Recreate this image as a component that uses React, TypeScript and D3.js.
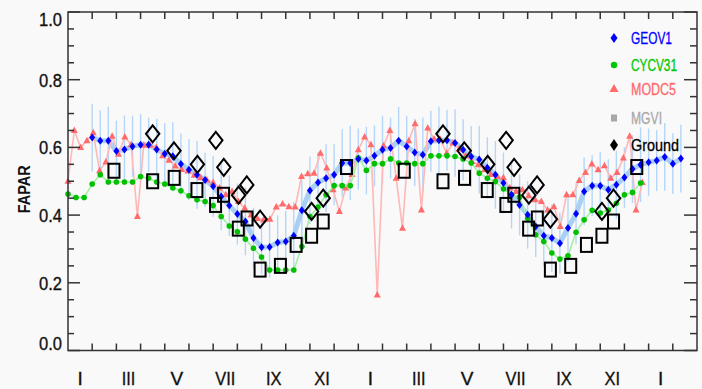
import React from "react";
import * as d3 from "d3";

// ---- data ----
// GEOV1: dekadal, starting at dekad 3 (1 Feb, year 1)
const geoStartDekad = 3;
const geov1 = [
  0.629, 0.62, 0.62, 0.589, 0.594, 0.603, 0.608, 0.608, 0.594, 0.581,
  0.574, 0.551, 0.534, 0.519, 0.504, 0.485, 0.455, 0.428, 0.403, 0.381,
  0.332, 0.305, 0.306, 0.319, 0.322, 0.339, 0.414, 0.473, 0.496, 0.509,
  0.519, 0.554, 0.554, 0.566, 0.561, 0.575, 0.593, 0.598, 0.62, 0.603,
  0.585, 0.578, 0.618, 0.621, 0.621, 0.613, 0.593, 0.573, 0.564, 0.54,
  0.519, 0.495, 0.46, 0.43, 0.401, 0.366, 0.339, 0.332, 0.317, 0.362,
  0.404, 0.47, 0.487, 0.487, 0.475, 0.49, 0.511, 0.536, 0.549, 0.556,
  0.561, 0.572, 0.552, 0.567,
];
const geov1Unc = [
  0.1, 0.09, 0.1, 0.09, 0.1, 0.09, 0.09, 0.08, 0.09, 0.09,
  0.1, 0.09, 0.09, 0.1, 0.08, 0.09, 0.1, 0.09, 0.09, 0.1,
  0.09, 0.08, 0.09, 0.08, 0.09, 0.1, 0.09, 0.1, 0.09, 0.1,
  0.09, 0.1, 0.11, 0.09, 0.1, 0.09, 0.1, 0.09, 0.1, 0.09,
  0.1, 0.11, 0.09, 0.1, 0.09, 0.1, 0.09, 0.09, 0.1, 0.09,
  0.1, 0.09, 0.1, 0.09, 0.1, 0.09, 0.09, 0.1, 0.09, 0.1,
  0.09, 0.1, 0.09, 0.1, 0.09, 0.1, 0.09, 0.1, 0.11, 0.1,
  0.09, 0.1, 0.09, 0.1,
];
// CYCV31: dekadal, starting at dekad 0
const cycStartDekad = 0;
const cycv31 = [
  0.462, 0.452, 0.452, 0.492, 0.519, 0.498, 0.498, 0.498, 0.498, 0.514,
  0.509, 0.498, 0.492, 0.48, 0.472, 0.457, 0.445, 0.44, 0.428, 0.396,
  0.368, 0.351, 0.329, 0.302, 0.276, 0.238, 0.238, 0.238, 0.238, 0.307,
  0.396, 0.424, 0.46, 0.487, 0.487, 0.487, 0.569, 0.532, 0.552, 0.552,
  0.566, 0.554, 0.554, 0.552, 0.552, 0.575, 0.575, 0.575, 0.573, 0.566,
  0.554, 0.524, 0.509, 0.499, 0.477, 0.46, 0.453, 0.391, 0.342, 0.322,
  0.288, 0.27, 0.28, 0.349, 0.386, 0.414, 0.406, 0.415, 0.435, 0.46,
  0.467, 0.495,
];
// MODC5: 8-day composites (46 per year), starting 1 Jan year 1
const modc5 = [
  0.5, 0.65, 0.6, 0.62, 0.643, 0.531, 0.557, 0.633, 0.58, 0.631,
  0.608, 0.396, 0.606, 0.606, 0.6, 0.575, 0.562, 0.545, 0.535, 0.53,
  0.518, 0.51, 0.504, 0.496, 0.48, 0.46, 0.47, 0.44, 0.42, 0.4,
  0.39, 0.386, 0.388, 0.424, 0.433, 0.425, 0.424, 0.514, 0.522, 0.524,
  0.583, 0.539, 0.475, 0.411, 0.48, 0.52, 0.593, 0.631, 0.608, 0.164,
  0.605, 0.65, 0.509, 0.361, 0.62, 0.67, 0.415, 0.657, 0.625, 0.623,
  0.583, 0.613, 0.595, 0.575, 0.558, 0.549, 0.534, 0.52, 0.514, 0.51,
  0.48, 0.47, 0.475, 0.457, 0.445, 0.44, 0.415, 0.425, 0.366, 0.46,
  0.46, 0.502, 0.526, 0.551, 0.534, 0.546, 0.509, 0.526, 0.569, 0.633,
  0.415, 0.496,
];
// Ground measurements (month of year, fractional), repeated for both years
const groundDiamondMonth = [3.5, 4.38, 5.35, 6.11, 6.44, 7.05, 7.39, 7.94, 10.07, 10.55];
const groundDiamondValue = [0.64, 0.59, 0.55, 0.621, 0.541, 0.459, 0.489, 0.388, 0.411, 0.45];
const groundSquareMonth = [1.9, 3.5, 4.39, 5.33, 6.1, 6.43, 7.04, 7.4, 7.94, 8.78, 9.43, 10.07, 10.55, 11.51];
const groundSquareValue = [0.531, 0.5, 0.51, 0.474, 0.43, 0.46, 0.36, 0.39, 0.239, 0.25, 0.312, 0.339, 0.381, 0.542];
const groundYears = [0, 12];

const monthLabels = ["I", "III", "V", "VII", "IX", "XI", "I", "III", "V", "VII", "IX", "XI", "I"];
const yMajor = [0, 0.2, 0.4, 0.6, 0.8, 1.0];
const yMinor = [0.05, 0.1, 0.15, 0.25, 0.3, 0.35, 0.45, 0.5, 0.55, 0.65, 0.7, 0.75, 0.85, 0.9, 0.95];
const legendItems = ["GEOV1", "CYCV31", "MODC5", "MGVI", "Ground"];

const W = 702, H = 389;
const L = 68, R = 697, T = 12, B = 350.5;
const NMONTHS = 26;

const romanWidth = (s: string) => {
  let w = 0;
  for (const ch of s) w += ch === "I" ? 4.5 : 11;
  return w;
};

export default function App() {
  const x = d3.scaleLinear().domain([0, NMONTHS]).range([L, R]);
  const y = d3.scaleLinear().domain([0, 1]).range([B, T]);

  const geoPts = geov1.map((v, i) => ({ m: (geoStartDekad + i) / 3, v, u: geov1Unc[i] }));
  const cycPts = cycv31.map((v, i) => ({ m: (cycStartDekad + i) / 3, v }));
  const modPts = modc5.map((v, i) => ({ m: (i * 12) / 46, v }));

  const line = d3
    .line<{ m: number; v: number }>()
    .x((d) => x(d.m))
    .y((d) => y(d.v));

  const font = "'Liberation Sans', Arial, sans-serif";
  const axisColor = "#333";

  const diamonds: { m: number; v: number }[] = [];
  const squares: { m: number; v: number }[] = [];
  groundYears.forEach((off) => {
    groundDiamondMonth.forEach((m, i) => diamonds.push({ m: m + off, v: groundDiamondValue[i] }));
    groundSquareMonth.forEach((m, i) => squares.push({ m: m + off, v: groundSquareValue[i] }));
  });

  const legendColors = ["#0000ff", "#00c800", "#ff6b6b", "#a8a8a8", "#000000"];
  const legendWidths = [41, 46, 45, 31, 48];

  return (
    <svg
      width={W}
      height={H}
      style={{ position: "absolute", left: 0, top: 0, background: "#f9f9f9" }}
    >
      <rect x={0} y={0} width={W} height={H} fill="#f9f9f9" />
      {/* GEOV1 error bars */}
      <g stroke="#b5d6f7" strokeWidth={1.4}>
        {geoPts.map((d, i) => (
          <line key={i} x1={x(d.m)} x2={x(d.m)} y1={y(d.v - d.u)} y2={y(d.v + d.u)} />
        ))}
      </g>
      {/* GEOV1 thick band line */}
      <path d={line(geoPts) || ""} fill="none" stroke="#a9cff5" strokeWidth={5} strokeLinejoin="round" />
      {/* MODC5 */}
      <path d={line(modPts) || ""} fill="none" stroke="#ffb8b8" strokeWidth={1.6} />
      <g fill="#ff6b6b">
        {modPts.map((d, i) => (
          <path key={i} transform={`translate(${x(d.m)},${y(d.v)})`} d="M0,-4L3.5,2.5L-3.5,2.5Z" />
        ))}
      </g>
      {/* CYCV31 */}
      <path d={line(cycPts) || ""} fill="none" stroke="#a4f0a4" strokeWidth={1.6} />
      <g fill="#00c000">
        {cycPts.map((d, i) => (
          <circle key={i} cx={x(d.m)} cy={y(d.v)} r={2.8} />
        ))}
      </g>
      {/* GEOV1 points */}
      <g fill="#0000ff">
        {geoPts.map((d, i) => (
          <path key={i} transform={`translate(${x(d.m)},${y(d.v)})`} d="M0,-4L3,0L0,4L-3,0Z" />
        ))}
      </g>
      {/* Ground */}
      <g fill="none" stroke="#000" strokeWidth={2}>
        {diamonds.map((d, i) => (
          <path key={i} transform={`translate(${x(d.m)},${y(d.v)})`} d="M0,-8.5L6.7,0L0,8.5L-6.7,0Z" />
        ))}
        {squares.map((d, i) => (
          <rect key={i} x={x(d.m) - 5.5} y={y(d.v) - 7} width={11} height={14} />
        ))}
      </g>

      {/* Axes frame */}
      <rect x={L} y={T} width={R - L} height={B - T} fill="none" stroke={axisColor} strokeWidth={1.5} />
      {/* ticks */}
      <g stroke={axisColor} strokeWidth={1.5}>
        {yMajor.map((v, i) => (
          <g key={"M" + i}>
            <line x1={L} x2={L + 12} y1={y(v)} y2={y(v)} />
            <line x1={R} x2={R - 13} y1={y(v)} y2={y(v)} />
          </g>
        ))}
        {yMinor.map((v, i) => (
          <g key={"m" + i}>
            <line x1={L} x2={L + 6} y1={y(v)} y2={y(v)} />
            <line x1={R} x2={R - 7} y1={y(v)} y2={y(v)} />
          </g>
        ))}
        {d3.range(1, NMONTHS).map((m) => (
          <g key={"x" + m}>
            <line x1={x(m)} x2={x(m)} y1={T} y2={T + 7} />
            <line x1={x(m)} x2={x(m)} y1={B} y2={B - 7} />
          </g>
        ))}
      </g>
      {/* y labels */}
      <g fontFamily={font} fontSize={19} fill="#111" stroke="#111" strokeWidth={0.35} textAnchor="end">
        {yMajor.map((v, i) => {
          let yy = y(v);
          if (v === 0) yy -= 7;
          if (v === 1) yy += 7;
          return (
            <text key={i} x={62} y={yy} dy="0.36em" textLength={23} lengthAdjust="spacingAndGlyphs">
              {v.toFixed(1)}
            </text>
          );
        })}
      </g>
      {/* x labels */}
      <g fontFamily={font} fontSize={19} fill="#111" stroke="#111" strokeWidth={0.35} textAnchor="middle">
        {monthLabels.map((lab, i) =>
          lab.length > 1 ? (
            <text
              key={i}
              x={x(i * 2 + 0.5)}
              y={385}
              textLength={romanWidth(lab)}
              lengthAdjust="spacingAndGlyphs"
            >
              {lab}
            </text>
          ) : (
            <text key={i} x={x(i * 2 + 0.5)} y={385}>
              {lab}
            </text>
          )
        )}
      </g>
      {/* y title */}
      <text
        transform={`translate(30,${(T + B) / 2 + 8}) rotate(-90)`}
        textAnchor="middle"
        fontFamily={font}
        fontWeight="bold"
        fontSize={16}
        fill="#111"
        textLength={48}
        lengthAdjust="spacingAndGlyphs"
      >
        FAPAR
      </text>
      {/* legend */}
      <g>
        {legendItems.map((name, i) => {
          const ly = [38, 65, 89, 118, 145][i];
          const c = legendColors[i];
          let sym;
          if (i === 0) sym = <path transform={`translate(614,${ly})`} d="M0,-5L3.5,0L0,5L-3.5,0Z" fill={c} />;
          else if (i === 1) sym = <circle cx={614} cy={ly} r={3.2} fill={c} />;
          else if (i === 2) sym = <path transform={`translate(614,${ly})`} d="M0,-5L4.5,3L-4.5,3Z" fill={c} />;
          else if (i === 3) sym = <rect x={611} y={ly - 3.5} width={6} height={7} fill={c} />;
          else sym = <path transform={`translate(614,${ly})`} d="M0,-6L4,0L0,6L-4,0Z" fill={c} />;
          return (
            <g key={name}>
              {sym}
              <text
                x={631}
                y={ly}
                dy="0.36em"
                fontFamily={font}
                fontSize={17}
                fill={c}
                stroke={c}
                strokeWidth={0.3}
                textLength={legendWidths[i]}
                lengthAdjust="spacingAndGlyphs"
              >
                {name}
              </text>
            </g>
          );
        })}
      </g>
    </svg>
  );
}
